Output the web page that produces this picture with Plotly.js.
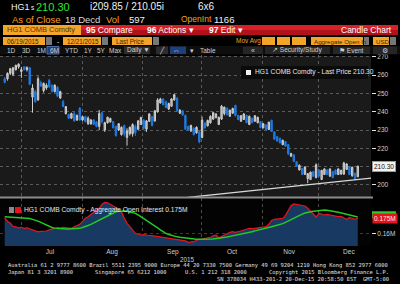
<!DOCTYPE html>
<html><head><meta charset="utf-8">
<script src="https://cdn.plot.ly/plotly-3.0.1.min.js"></script>
<style>html,body{margin:0;padding:0;background:#000;}#chart{width:400px;height:284px;}</style>
</head><body><div id="chart"></div>
<script>
// ---- data (HG1 COMB Comdty, daily, Jun 19 – Dec 18 2015) ----
const openP  = [258,258,261,260.5,263,264.5,262,264.5,263,264,248,251,246.5,256,251.5,253,257.2,254.5,251,253.4,247.5,245.5,239,238.5,236.5,239,235.5,242,235.5,237.3,233.5,233.3,235.5,234.4,232,239.5,230,234,234.5,234.6,232,230,227.5,232.5,226,228,228,232,230.5,233,235.5,230.5,234.8,237.3,235,240,244.8,247,245.5,241.5,243,246.5,247.4,239.2,240.5,238,232,229.5,231,228.5,229,226,233.7,232.3,234,236,236.8,233,236,239,242,237.5,239.2,243.5,238,234.8,235.8,238,233,236.4,234.8,234,234.6,231.2,232.8,230.3,235.3,229,226.4,225.5,222,223.7,222,215.7,216.4,212.7,208.2,209,205.8,203.5,203,207.3,204,208.2,203,205.7,208.2,204.8,207.3,208.2,205.7,206,206,208.5,210,205,206.4,204.5];
const highP  = [259,261.5,264,264.5,265.8,266.5,264.5,265,264.8,264.5,255,252,259.3,257,256,255.5,258,255,255,254,251.5,246.5,243,239,239.5,240,238.5,242.5,237.8,237.8,237.5,236,236,235,241,240,234.6,237.3,236.8,235,232.5,233.7,232,233,231,232,233.7,233,235.5,237.3,236,235.5,239.2,237.8,241,247.4,247.6,247.4,246,245,247.4,249.8,248,241.5,241,238.5,232.5,233,231.5,232,229.5,237.3,234.5,235.7,238,240,239.2,237.3,243.7,242.8,242.3,241.2,242.2,243.8,238.3,238.2,239.2,238.3,238,236.8,238.2,237.3,235,233.8,233.2,234.6,235.7,229.3,226.8,225.8,224.8,224,222.5,217.6,216.8,213,211.2,209.3,210.2,206.5,207.3,207.6,211.8,208.6,208.2,209,208.5,209,207.6,208.5,209,208.3,212.7,211.8,210.3,210,206.8,210.5];
const lowP   = [255.5,257,260,259.5,262.5,263.5,258.5,262.5,262,254.5,239.5,245,246,253.5,250.5,252,253,250.5,250.5,248,247,242.5,238.5,236,236,234.6,235,235,235,234.2,232.8,233,232.8,231.5,230,233.5,229,233.5,234,231,226.4,229.5,227,226.5,221.5,227,226.4,226.8,230,232.8,230,229,234.5,232,234.6,239.5,244.5,243.5,242,241,242.8,246,240,238.8,237.8,230,229.5,229,227,228,222.8,225.5,230.8,232,233.5,235.5,236.4,232.8,235.5,238,238,237.3,239,237.3,235.5,234.6,235.5,233.7,232.8,233.7,234.6,233.7,231,231,230,230,229,224.6,223.7,222.8,221.8,221,216.4,215.5,212.5,210,208,205.5,205.5,201,202.7,204.5,203.7,204.5,202.7,205.5,205.5,204.5,203.7,205.5,205.5,205.5,205.5,208.2,205.5,204.5,202.7,204.3];
const closeP = [256,261,263.5,264,265.3,266,263,263,264.2,255,253,245.5,258,254,255.5,254.5,253.7,251,254.5,248.5,251,242.8,242.8,236.5,239,235,238,235.5,237.3,234.6,236.5,235.5,233,232,239,234.5,234,237,236.3,231.2,227,233.5,231.5,228,229.5,231.5,233,228.5,235,236.8,231,235,238.8,232.5,240.5,246.5,247,243.8,242.3,244.5,247,249.3,240.5,240.8,238.2,230.5,230.2,232.5,227.5,231.5,223.5,235.5,231.2,235.3,237.5,239.5,238.8,237,243,242.5,238.3,240.8,241.8,238,235.7,237.8,238.8,234,237.5,234,237.8,237,231.3,233.5,230.2,234.3,229.2,225,224,223,224.4,221.2,217,217.2,212.8,210.2,210.8,205.7,209.8,206.2,207,204.7,211,204.8,208,208.8,205.7,208.8,204,205.8,208.8,208,212,211.5,205.7,209.7,203,210.3];
// Aggregate open interest (thousands of contracts) and its moving average
const oiThousands = [175.5,172,170,167,166.5,165.5,166,165,165.5,164.5,164,163,161.5,162,161.8,162.3,163.5,164.3,165,165.6,165.3,166,165.6,165.2,165,166.5,168,169,172,175,176.5,179,181,183,185,189,191,190.5,189,187.5,185.6,183.5,181.6,175,170,166.6,163,160,159,158.3,158.6,158,157.8,157.6,157.2,157,156.6,156,155.6,155.3,155,154.6,154.3,153.8,153.3,152.5,151,151.3,151.6,153,154,154.2,154.8,155,156,157.5,158.3,155.6,157,158.5,160,161,161.6,161,161.6,162.5,163.5,164.5,165,164.5,165.2,165.6,166,166.3,166.6,169,172.8,174,174.5,175,175,178,183.3,187.5,189.3,188.8,188.3,188,187.3,185,182.3,179,176.3,180,179,178.3,179,178.3,178.3,177.5,176.6,177,175,173.8,175.8,175,174,175];
const oiAvgThousands = [176.6,176.4,176.2,176,175.9,175.8,175.7,175.6,175.4,174.8,174,173.3,172.2,171,169.6,168.3,167,165.8,165.2,164.8,164.5,164.4,164.3,164.3,164.3,164.3,164.5,165,165.8,166.6,167.8,169,170.5,171.6,173.2,174.8,176.4,177.6,178.8,180,181.6,182,182.3,182.3,182.1,181.6,181,180,178.4,176.6,175,173.3,171.5,169.6,167.5,165.4,163.4,161.5,160,158.8,157.8,157,156.5,156,155.6,155.2,154.9,154.6,154.3,154.1,154,153.9,154,154.1,154.2,154.3,154.6,155,155.4,155.8,156.3,156.9,157.4,157.9,158.4,159,159.6,160.3,161,161.6,162.5,163.3,164.1,164.8,165.4,166,166.6,167.3,167.9,168.5,169.6,171,172.5,174,175.5,176.8,178,179.2,180.3,181,181.6,182,182.3,182.8,183.3,183.3,183.1,182.8,182.3,181.6,181,180.3,179.6,178.8,177.8,177.2,176.6,176.3];
const monthLabels   = ['Jul','Aug','Sep','Oct','Nov','Dec'];
const monthStartIdx = [6.1, 28.1, 49.4, 70.9, 92.8, 112.7];
const monthLabelIdx = [16.3, 38.6, 60.5, 81.8, 102.3, 123.8];
const priceTicks = [200,210,220,230,240,250,260,270];
const priceTickText = ['200','','220','230','240','250','260','270'];
const trendX = [65.9, 131.8];
const trendY = [193.2, 203.8];
const lastPrice = 210.30;
const lastOI = 0.175;
const lastOIAvg = 0.1785;

// ---- build ----
const idx = closeP.map((_, i) => i);
const oi = oiThousands.map(v => v / 1000);
const oiAvg = oiAvgThousands.map(v => v / 1000);

const W = 400, H = 284;
const px = x => x / W, py = y => 1 - y / H;
const FONT = 'Liberation Sans, Arial, sans-serif';
const shapes = [], ann = [];
function rect(x0, y0, x1, y1, fill, line, layer) {
  shapes.push({type:'rect', xref:'paper', yref:'paper', x0:px(x0), x1:px(x1), y0:py(y1), y1:py(y0),
    fillcolor:fill, line:{width:line?1:0, color:line||fill}, layer:layer||'above'});
}
function hline(x0, x1, y, color, w) {
  shapes.push({type:'line', xref:'paper', yref:'paper', x0:px(x0), x1:px(x1), y0:py(y), y1:py(y), line:{color:color, width:w||1}});
}
function txt(x, y, t, o) {
  o = o || {};
  ann.push({xref:'paper', yref:'paper', x:px(x), y:py(y), text:t, showarrow:false,
    xanchor:o.anchor||'left', yanchor:'middle', borderpad:0,
    font:{family:o.family||FONT, size:o.size||7, color:o.color||'#dddddd'}});
}

// panel backgrounds
rect(0, 56, 371, 197, '#1a1a1a', null, 'below');
rect(0, 198, 371, 246, '#030303', null, 'below');

// header row 1
txt(10, 7, 'HG1', {size:9, color:'#f0f0f0'});
txt(30, 8, 's', {size:6.5, color:'#f0f0f0'});
txt(35, 7, '210.30', {size:11, color:'#2ee62e'});
txt(89, 7, 'i209.85 / 210.05i', {size:10, color:'#f0f0f0'});
txt(197, 7, '6x6', {size:10, color:'#f0f0f0'});
// header row 2
txt(11, 19, 'As of Close', {size:9.5, color:'#f0a020'});
txt(64, 19, '18 Decd', {size:9.5, color:'#d8d8d8'});
txt(105, 19, 'Vol', {size:9.5, color:'#f0a020'});
txt(128, 19, '597', {size:9.5, color:'#f0f0f0'});
txt(180, 19, 'OpenInt', {size:8.5, color:'#f0a020'});
txt(213, 19, '1166', {size:9.5, color:'#f0f0f0'});
// header row 3 (red toolbar)
rect(81, 25, 398, 30, '#d8202a');
rect(81, 30, 398, 35, '#b3111a');
rect(3, 25, 81, 35, '#f3a42a');
txt(6, 30, 'HG1 COMB Comdty', {size:7.5, color:'#5a3400'});
txt(85, 30, '<b>95</b> Compare', {size:8.5, color:'#ffffff'});
txt(146, 30, '<b>96</b> Actions \u25BE', {size:8.5, color:'#ffffff'});
txt(208, 30, '<b>97</b> Edit \u25BE', {size:8.5, color:'#ffffff'});
txt(393, 30, 'Candle Chart', {size:8.5, color:'#ffffff', anchor:'right'});
// header row 4
rect(3, 37, 45, 45, '#f3a42a'); txt(6, 41, '06/19/2015', {size:6.3, color:'#3a2400'});
rect(46, 37, 52, 45, '#777777');
txt(56, 41, '-', {size:7, color:'#eeeeee'});
rect(63, 37, 101, 45, '#f3a42a'); txt(66, 41, '12/21/2015', {size:6.3, color:'#3a2400'});
rect(102, 37, 108, 45, '#777777');
rect(112, 37, 152, 45, '#f3a42a'); txt(115, 41, 'Last Price', {size:6.3, color:'#3a2400'});
rect(153, 37, 159, 45, '#777777');
txt(235, 41, 'Mov Avg', {size:6.5, color:'#f0a020'});
rect(262, 37, 275, 45, '#f3a42a');
rect(277, 37, 290, 45, '#f3a42a');
rect(292, 37, 306, 45, '#f3a42a');
rect(311, 37, 363, 45, '#f3a42a'); txt(313, 41, 'Aggregate Open In', {size:6.2, color:'#3a2400'});
rect(364, 37, 369, 45, '#777777');
rect(373, 37, 389, 45, '#f3a42a'); txt(375, 41, 'USD', {size:6.2, color:'#3a2400'});
rect(390, 37, 396, 45, '#777777');
// header row 5 (toolbar)
rect(0, 46, 400, 54.5, '#0e0e0e');
rect(47, 46.5, 59, 54, '#1f3f78', '#4a6aa8');
rect(124, 46.5, 150, 54, '#2c2c2c');
rect(156, 46.5, 168, 54, '#2c2c2c');
rect(170, 46.5, 186, 54, '#1f3f78');
rect(243, 46.5, 263, 54, '#262626');
rect(265, 46.5, 330, 54, '#262626');
rect(333, 46.5, 370, 54, '#262626');
rect(373, 46.5, 397, 54, '#262626');
const tb = [['1D',6],['3D',21],['1M',36],['6M',49],['YTD',64],['1Y',83],['5Y',96],['Max',108],['Daily \u25BC',126]];
tb.forEach(t => txt(t[1], 50.3, t[0], {size:6.5, color:'#cfcfcf'}));
txt(158, 50.3, '\u2571', {size:7, color:'#cfcfcf'});
txt(172, 50.3, '\u21D4', {size:7, color:'#e0e0ff'});
txt(189, 50.3, '\u25BE', {size:6.5, color:'#cfcfcf'});
txt(199, 50.3, 'Table', {size:6.5, color:'#cfcfcf'});
txt(250, 50.3, '\u00AB', {size:7, color:'#cfcfcf'});
txt(271, 50.3, '\u2197 Security/Study', {size:6.5, color:'#cfcfcf'});
txt(338, 50.3, '\u2691 Event', {size:6.5, color:'#cfcfcf'});
txt(381, 50.3, '\u2699', {size:7, color:'#cfcfcf'});

// main legend
rect(241, 66, 368, 79, '#0b0b0b');
rect(246, 70, 251, 75, '#f0f0f0');
txt(254, 72.5, 'HG1 COMB Comdty - Last Price ' + lastPrice.toFixed(2), {size:6.7, color:'#e6e6e6'});
// lower legend
rect(9, 207, 14, 213, '#8a8a8a');
rect(15, 207, 21, 213, '#e3141c');
txt(23, 210, 'HG1 COMB Comdty - Aggregate Open Interest ' + lastOI.toFixed(3) + 'M', {size:6.7, color:'#e6e6e6'});
// separator between panels
hline(0, 373, 197.5, '#8c8c8c', 2);

// right-side value boxes
ann.push({xref:'paper', yref:'y', x:px(372), y:lastPrice, xanchor:'left', yanchor:'middle', showarrow:false,
  text:lastPrice.toFixed(2), bgcolor:'#f2f2f2', bordercolor:'#9a9a9a', borderwidth:1, borderpad:1,
  font:{family:FONT, size:6.5, color:'#111'}});
shapes.push({type:'rect', xref:'paper', yref:'y2', x0:px(372), x1:px(396), y0:lastOIAvg - 0.0035, y1:lastOIAvg + 0.0035,
  fillcolor:'#2bd12b', line:{width:0}, layer:'above'});
ann.push({xref:'paper', yref:'y2', x:px(372), y:lastOI, xanchor:'left', yanchor:'middle', showarrow:false,
  text:lastOI.toFixed(3) + 'M', bgcolor:'#e3141c', borderpad:1, font:{family:FONT, size:6.5, color:'#ffe8e8'}});

// year label + footer
txt(187, 259, '2015', {size:6.3, color:'#cfcfcf', anchor:'center'});
const MONO = 'DejaVu Sans Mono, Liberation Mono, monospace';
txt(7, 265.5, 'Australia 61 2 9777 8600 Brazil 5511 2395 9000 Europe 44 20 7330 7500 Germany 49 69 9204 1210 Hong Kong 852 2977 6000', {size:5.4, family:MONO, color:'#e0e0e0'});
txt(7, 272, 'Japan 81 3 3201 8900', {size:5.4, family:MONO, color:'#e0e0e0'});
txt(94, 272, 'Singapore 65 6212 1000', {size:5.4, family:MONO, color:'#e0e0e0'});
txt(184, 272, 'U.S. 1 212 318 2000', {size:5.4, family:MONO, color:'#e0e0e0'});
txt(390, 272, 'Copyright 2015 Bloomberg Finance L.P.', {size:5.4, family:MONO, color:'#e0e0e0', anchor:'right'});
txt(390, 278.5, 'SN 378034 H433-201-2 20-Dec-15 20:58:50 EST  GMT-5:00', {size:5.4, family:MONO, color:'#e0e0e0', anchor:'right'});

const xRange = [-1.69, 131.76];
const data = [
  {type:'candlestick', x:idx, open:openP, high:highP, low:lowP, close:closeP, xaxis:'x', yaxis:'y',
   increasing:{line:{color:'#cfcfcf', width:1}, fillcolor:'#a8a8a8'},
   decreasing:{line:{color:'#1f7ae0', width:1}, fillcolor:'#1f7ae0'},
   whiskerwidth:0, hoverinfo:'skip'},
  {type:'scatter', mode:'lines', x:trendX, y:trendY, xaxis:'x', yaxis:'y',
   line:{color:'#d8d8d8', width:1.2}, hoverinfo:'skip'},
  {type:'scatter', mode:'lines', x:idx, y:oi, xaxis:'x2', yaxis:'y2', fill:'tozeroy',
   fillcolor:'#183a62', line:{color:'#e8141c', width:1.2}, hoverinfo:'skip'},
  {type:'scatter', mode:'lines', x:idx, y:oiAvg, xaxis:'x2', yaxis:'y2',
   line:{color:'#22cc22', width:1.4}, hoverinfo:'skip'}
];

const gridStyle = {showgrid:true, gridcolor:'#5a5a5a', griddash:'dot', gridwidth:1, zeroline:false};
const layout = {
  width:W, height:H, margin:{l:0, r:0, t:0, b:0}, paper_bgcolor:'#000', plot_bgcolor:'rgba(0,0,0,0)',
  showlegend:false, shapes:shapes, annotations:ann,
  xaxis: Object.assign({domain:[0, 371/W], range:xRange, anchor:'y', tickmode:'array', tickvals:monthStartIdx,
    showticklabels:false, ticks:'', showline:false, rangeslider:{visible:false}, fixedrange:true}, gridStyle),
  yaxis: Object.assign({domain:[1-197/H, 1-55/H], range:[193.44, 271.0], anchor:'x', side:'right',
    tickmode:'array', tickvals:priceTicks, ticktext:priceTickText, ticks:'outside', ticklen:4, tickcolor:'#e0e0e0', tickwidth:1,
    tickfont:{family:FONT, size:6.5, color:'#cfcfcf'}, showline:false, fixedrange:true}, gridStyle),
  xaxis2: {domain:[0, 371/W], range:xRange, anchor:'y2', tickmode:'array', tickvals:monthLabelIdx, ticktext:monthLabels,
    ticks:'', showgrid:false, zeroline:false, showline:false, tickfont:{family:FONT, size:6.5, color:'#cfcfcf'},
    minor:{tickmode:'array', tickvals:monthStartIdx, showgrid:true, gridcolor:'#4a4a4a', griddash:'dot', ticks:''}, fixedrange:true},
  yaxis2: Object.assign({domain:[1-246/H, 1-198/H], range:[0.1473, 0.1953], anchor:'x2', side:'right',
    tickmode:'array', tickvals:[0.16], ticktext:['0.16M'], ticks:'outside', ticklen:4, tickcolor:'#e0e0e0',
    tickfont:{family:FONT, size:6.5, color:'#cfcfcf'}, showline:false, fixedrange:true}, gridStyle, {gridcolor:'#3c3c3c'})
};
Plotly.newPlot('chart', data, layout, {staticPlot:true, displayModeBar:false});
</script></body></html>
